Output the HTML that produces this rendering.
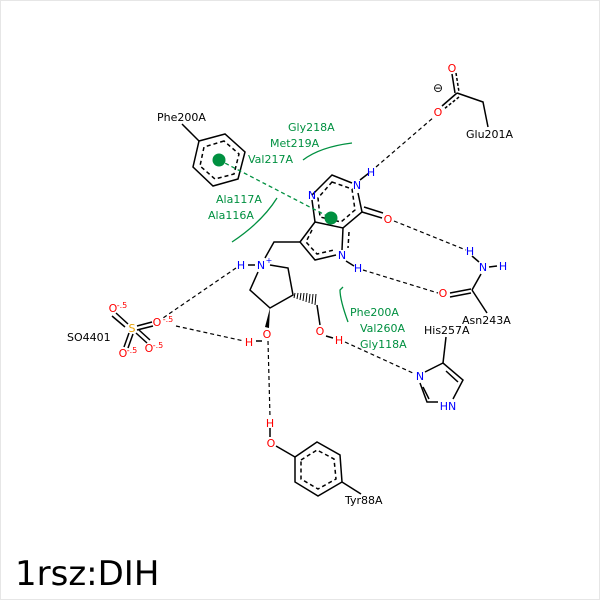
<!DOCTYPE html>
<html><head><meta charset="utf-8"><style>body{margin:0;background:#fff}svg{display:block}text{font-family:"DejaVu Sans","Liberation Sans",sans-serif}</style></head><body>
<svg width="600" height="600" viewBox="0 0 600 600" xmlns="http://www.w3.org/2000/svg">
<rect x="0.5" y="0.5" width="599" height="599" fill="#fff" stroke="#e6e6e6"/>
<g stroke="#000" stroke-width="1.5" fill="none">
<!-- Phe ring -->
<polygon points="225,134 199,141 193,167 213,186 238,179 245,152"/>
<polygon points="224,141 204,147 200,166 215,179 234,174 239,154" stroke-dasharray="4,3"/>
<line x1="199" y1="141" x2="182" y2="124"/>
<!-- pyrimidine -->
<polyline points="312,195 332,175 352,183"/>
<polyline points="358,193 362,212 343,228 315,222 312,200"/>
<polygon points="332,182 352,189 355,210 341,222 320,217 318,198" stroke-dasharray="4,3"/>
<line x1="362" y1="212" x2="382" y2="218"/>
<line x1="364" y1="207" x2="383" y2="213"/>
<!-- pyrrole -->
<polyline points="315,222 300,242 315,260 336,255"/>
<line x1="343" y1="228" x2="342" y2="250"/>
<polyline points="312,230 306,242 317,254 334,250" stroke-dasharray="4,3"/>
<line x1="349" y1="232" x2="348" y2="248" stroke-dasharray="4,3"/>
<line x1="360" y1="180" x2="369" y2="173"/>
<line x1="346" y1="261" x2="354" y2="266"/>
<!-- CH2 to N+ -->
<polyline points="300,242 274,242 265,258"/>
<!-- pyrrolidine -->
<polyline points="270,265 288,268 293,295 270,308 250,290 258,272"/>
<line x1="248" y1="265" x2="255" y2="265"/>
<line x1="317" y1="305" x2="320" y2="325"/>
<line x1="262" y1="341" x2="256" y2="341"/>
<line x1="326" y1="336" x2="333" y2="338"/>
<!-- sulfate -->
<line x1="116" y1="313" x2="128" y2="324"/><line x1="112" y1="316" x2="125" y2="327"/>
<line x1="137" y1="326" x2="152" y2="322"/><line x1="137" y1="330" x2="153" y2="326"/>
<line x1="129" y1="333" x2="124" y2="347"/><line x1="133" y1="334" x2="128" y2="348"/>
<line x1="136" y1="333" x2="147" y2="343"/><line x1="139" y1="330" x2="150" y2="340"/>
<!-- Tyr -->
<line x1="270" y1="428" x2="270" y2="437"/>
<line x1="276" y1="446" x2="295" y2="457"/>
<polygon points="295,457 317,442 340,455 342,482 318,496 295,482"/>
<polygon points="301,460 317,450 334,459 336,479 318,489 301,479" stroke-dasharray="4,3"/>
<line x1="342" y1="482" x2="361" y2="494"/>
<!-- His -->
<polyline points="425,372 443,363 463,380 453,399"/>
<polyline points="420,383 427,402 438,402"/>
<line x1="446" y1="371" x2="458" y2="382"/>
<line x1="423" y1="387" x2="429" y2="399"/>
<line x1="443" y1="363" x2="446" y2="337"/>
<!-- Asn -->
<line x1="472" y1="256" x2="479" y2="262"/>
<line x1="489" y1="267" x2="497" y2="266"/>
<line x1="481" y1="274" x2="472" y2="290"/>
<line x1="450" y1="293" x2="471" y2="289"/><line x1="450" y1="297" x2="471" y2="293"/>
<line x1="472" y1="290" x2="487" y2="313"/>
<!-- Glu -->
<line x1="452" y1="74" x2="455" y2="93"/><line x1="456" y1="73" x2="459" y2="92" stroke-dasharray="3,2"/>
<line x1="457" y1="93" x2="442" y2="106"/><line x1="459" y1="97" x2="444" y2="109" stroke-dasharray="3,2"/>
<polyline points="457,93 483,102 488,127"/>
</g>
<!-- wedges -->
<polygon points="270,308 265,327 269,328" fill="#000"/>
<g stroke="#000" stroke-width="1">
<line x1="295" y1="293" x2="294" y2="298"/><line x1="298" y1="293" x2="297" y2="299"/><line x1="301" y1="293" x2="300" y2="300"/><line x1="304" y1="293" x2="303" y2="301"/><line x1="307" y1="293" x2="306" y2="302"/><line x1="310" y1="294" x2="309" y2="303"/><line x1="313" y1="294" x2="312" y2="304"/><line x1="316" y1="294" x2="315" y2="305"/>
</g>
<!-- H bonds -->
<g stroke="#000" stroke-width="1.2" stroke-dasharray="4,3" fill="none">
<line x1="376" y1="167" x2="434" y2="117"/>
<line x1="394" y1="221" x2="466" y2="250"/>
<line x1="363" y1="270" x2="438" y2="293"/>
<line x1="236" y1="268" x2="163" y2="318"/>
<line x1="176" y1="326" x2="244" y2="341"/>
<line x1="268" y1="341" x2="270" y2="417"/>
<line x1="345" y1="342" x2="415" y2="374"/>
</g>
<!-- hydrophobic -->
<g stroke="#009040" stroke-width="1.3" fill="none">
<path d="M303,160 Q320,147 352,143"/>
<path d="M232,242 Q262,222 277,198"/>
<path d="M348,322 Q340,300 340,290 L343,287"/>
<line x1="219" y1="160" x2="331" y2="218" stroke-dasharray="4,3"/>
</g>
<circle cx="219" cy="160" r="6.5" fill="#009040"/>
<circle cx="331" cy="218" r="6.5" fill="#009040"/>
<g font-size="11">
<g fill="#009040">
<text x="288" y="131">Gly218A</text>
<text x="270" y="147">Met219A</text>
<text x="248" y="163">Val217A</text>
<text x="216" y="203">Ala117A</text>
<text x="208" y="219">Ala116A</text>
<text x="350" y="316">Phe200A</text>
<text x="360" y="332">Val260A</text>
<text x="360" y="348">Gly118A</text>
</g>
<g fill="#000">
<text x="157" y="121">Phe200A</text>
<text x="466" y="138">Glu201A</text>
<text x="462" y="324">Asn243A</text>
<text x="424" y="334">His257A</text>
<text x="67" y="341">SO4401</text>
<text x="345" y="504">Tyr88A</text>
<text x="433" y="92" font-size="12">⊖</text>
</g>
<g fill="#0000ff" text-anchor="middle">
<text x="312" y="199">N</text>
<text x="357" y="189">N</text>
<text x="371" y="176">H</text>
<text x="342" y="259">N</text>
<text x="358" y="272">H</text>
<text x="261" y="269">N</text><text x="269" y="263" font-size="8">+</text>
<text x="241" y="269">H</text>
<text x="470" y="255">H</text>
<text x="483" y="271">N</text>
<text x="503" y="270">H</text>
<text x="420" y="380">N</text>
<text x="448" y="410">HN</text>
</g>
<g fill="#ff0000" text-anchor="middle">
<text x="388" y="223">O</text>
<text x="443" y="297">O</text>
<text x="452" y="72">O</text>
<text x="438" y="116">O</text>
<text x="267" y="338">O</text>
<text x="249" y="346">H</text>
<text x="320" y="335">O</text>
<text x="339" y="344">H</text>
<text x="270" y="427">H</text>
<text x="271" y="447">O</text>
<text x="113" y="312">O</text>
<text x="157" y="326">O</text>
<text x="123" y="357">O</text>
<text x="149" y="352">O</text>
<text x="122" y="308" font-size="8">-.5</text>
<text x="168" y="322" font-size="8">-.5</text>
<text x="132" y="353" font-size="8">-.5</text>
<text x="158" y="348" font-size="8">-.5</text>
</g>
<text x="132" y="332" fill="#e8a000" text-anchor="middle">S</text>
</g>
<text x="15" y="585" font-size="34" fill="#000">1rsz:DIH</text>
</svg>
</body></html>
